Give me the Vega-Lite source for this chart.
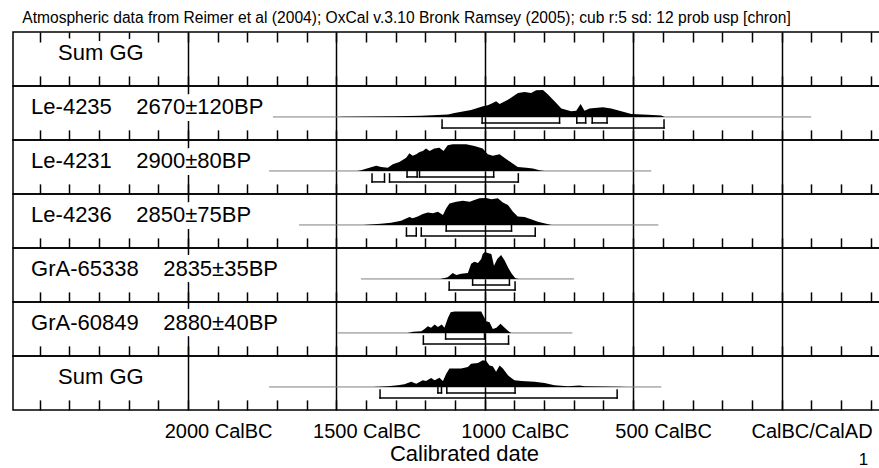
{
"$schema": "https://vega.github.io/schema/vega-lite/v6.json",
"padding": {"left": 12, "top": 10, "right": 0, "bottom": 0},
"title": {"text": "Atmospheric data from Reimer et al (2004); OxCal v.3.10 Bronk Ramsey (2005); cub r:5 sd: 12 prob usp [chron]", "anchor": "start", "fontSize": 15.6, "fontWeight": "normal", "color": "black", "dx": 10, "offset": 4},
"config": {"font": "Liberation Sans", "view": {"stroke": "black", "strokeWidth": 1.5}},
"datasets": {
"dist": [
{"row":2,"year":-1500,"p":0},{"row":2,"year":-1480,"p":0.01},{"row":2,"year":-1300,"p":0.03},{"row":2,"year":-1214,"p":0.04},{"row":2,"year":-1124,"p":0.09},{"row":2,"year":-1102,"p":0.15},{"row":2,"year":-1046,"p":0.26},{"row":2,"year":-1006,"p":0.40},{"row":2,"year":-990,"p":0.43},{"row":2,"year":-973,"p":0.52},{"row":2,"year":-962,"p":0.58},{"row":2,"year":-950,"p":0.48},{"row":2,"year":-922,"p":0.64},{"row":2,"year":-888,"p":0.89},{"row":2,"year":-866,"p":0.93},{"row":2,"year":-844,"p":0.89},{"row":2,"year":-827,"p":0.99},{"row":2,"year":-804,"p":1.0},{"row":2,"year":-787,"p":0.83},{"row":2,"year":-765,"p":0.58},{"row":2,"year":-742,"p":0.31},{"row":2,"year":-709,"p":0.21},{"row":2,"year":-692,"p":0.23},{"row":2,"year":-677,"p":0.48},{"row":2,"year":-664,"p":0.23},{"row":2,"year":-647,"p":0.31},{"row":2,"year":-630,"p":0.33},{"row":2,"year":-602,"p":0.36},{"row":2,"year":-574,"p":0.31},{"row":2,"year":-540,"p":0.21},{"row":2,"year":-506,"p":0.11},{"row":2,"year":-450,"p":0.085},{"row":2,"year":-405,"p":0.05},{"row":2,"year":-394,"p":0},
{"row":3,"year":-1430,"p":0},{"row":3,"year":-1417,"p":0.03},{"row":3,"year":-1389,"p":0.12},{"row":3,"year":-1366,"p":0.19},{"row":3,"year":-1349,"p":0.15},{"row":3,"year":-1327,"p":0.12},{"row":3,"year":-1310,"p":0.25},{"row":3,"year":-1288,"p":0.33},{"row":3,"year":-1265,"p":0.49},{"row":3,"year":-1254,"p":0.66},{"row":3,"year":-1243,"p":0.56},{"row":3,"year":-1231,"p":0.62},{"row":3,"year":-1220,"p":0.70},{"row":3,"year":-1209,"p":0.74},{"row":3,"year":-1198,"p":0.83},{"row":3,"year":-1186,"p":0.74},{"row":3,"year":-1170,"p":0.83},{"row":3,"year":-1153,"p":0.86},{"row":3,"year":-1139,"p":0.74},{"row":3,"year":-1125,"p":0.95},{"row":3,"year":-1108,"p":0.99},{"row":3,"year":-1063,"p":0.99},{"row":3,"year":-1035,"p":0.93},{"row":3,"year":-1007,"p":0.83},{"row":3,"year":-990,"p":0.62},{"row":3,"year":-973,"p":0.56},{"row":3,"year":-950,"p":0.62},{"row":3,"year":-934,"p":0.49},{"row":3,"year":-911,"p":0.31},{"row":3,"year":-889,"p":0.15},{"row":3,"year":-860,"p":0.12},{"row":3,"year":-838,"p":0.09},{"row":3,"year":-816,"p":0.03},{"row":3,"year":-800,"p":0},
{"row":4,"year":-1410,"p":0},{"row":4,"year":-1350,"p":0.04},{"row":4,"year":-1316,"p":0.085},{"row":4,"year":-1282,"p":0.16},{"row":4,"year":-1254,"p":0.29},{"row":4,"year":-1243,"p":0.25},{"row":4,"year":-1226,"p":0.31},{"row":4,"year":-1209,"p":0.41},{"row":4,"year":-1192,"p":0.46},{"row":4,"year":-1175,"p":0.43},{"row":4,"year":-1158,"p":0.49},{"row":4,"year":-1141,"p":0.37},{"row":4,"year":-1130,"p":0.62},{"row":4,"year":-1119,"p":0.80},{"row":4,"year":-1096,"p":0.86},{"row":4,"year":-1074,"p":0.90},{"row":4,"year":-1051,"p":0.86},{"row":4,"year":-1035,"p":0.93},{"row":4,"year":-1018,"p":0.99},{"row":4,"year":-995,"p":1.0},{"row":4,"year":-978,"p":0.95},{"row":4,"year":-956,"p":0.99},{"row":4,"year":-939,"p":0.83},{"row":4,"year":-922,"p":0.74},{"row":4,"year":-905,"p":0.49},{"row":4,"year":-889,"p":0.31},{"row":4,"year":-866,"p":0.29},{"row":4,"year":-844,"p":0.21},{"row":4,"year":-821,"p":0.12},{"row":4,"year":-793,"p":0.04},{"row":4,"year":-775,"p":0},
{"row":5,"year":-1150,"p":0},{"row":5,"year":-1125,"p":0.06},{"row":5,"year":-1108,"p":0.22},{"row":5,"year":-1096,"p":0.15},{"row":5,"year":-1080,"p":0.19},{"row":5,"year":-1057,"p":0.22},{"row":5,"year":-1046,"p":0.56},{"row":5,"year":-1035,"p":0.64},{"row":5,"year":-1023,"p":0.59},{"row":5,"year":-1012,"p":0.74},{"row":5,"year":-1007,"p":0.93},{"row":5,"year":-1000,"p":1.0},{"row":5,"year":-990,"p":0.96},{"row":5,"year":-978,"p":0.93},{"row":5,"year":-969,"p":0.49},{"row":5,"year":-958,"p":0.74},{"row":5,"year":-945,"p":0.89},{"row":5,"year":-933,"p":0.68},{"row":5,"year":-922,"p":0.43},{"row":5,"year":-909,"p":0.19},{"row":5,"year":-897,"p":0.03},{"row":5,"year":-885,"p":0},
{"row":6,"year":-1260,"p":0},{"row":6,"year":-1241,"p":0.04},{"row":6,"year":-1214,"p":0.06},{"row":6,"year":-1203,"p":0.15},{"row":6,"year":-1192,"p":0.25},{"row":6,"year":-1181,"p":0.19},{"row":6,"year":-1169,"p":0.31},{"row":6,"year":-1158,"p":0.22},{"row":6,"year":-1145,"p":0.31},{"row":6,"year":-1136,"p":0.19},{"row":6,"year":-1124,"p":0.56},{"row":6,"year":-1115,"p":0.77},{"row":6,"year":-1102,"p":0.80},{"row":6,"year":-1012,"p":0.80},{"row":6,"year":-1004,"p":0.62},{"row":6,"year":-995,"p":0.43},{"row":6,"year":-984,"p":0.40},{"row":6,"year":-973,"p":0.15},{"row":6,"year":-961,"p":0.19},{"row":6,"year":-947,"p":0.34},{"row":6,"year":-933,"p":0.19},{"row":6,"year":-920,"p":0.06},{"row":6,"year":-911,"p":0},
{"row":7,"year":-1376,"p":0},{"row":7,"year":-1327,"p":0.03},{"row":7,"year":-1293,"p":0.06},{"row":7,"year":-1271,"p":0.10},{"row":7,"year":-1248,"p":0.19},{"row":7,"year":-1231,"p":0.12},{"row":7,"year":-1209,"p":0.25},{"row":7,"year":-1198,"p":0.22},{"row":7,"year":-1181,"p":0.33},{"row":7,"year":-1169,"p":0.25},{"row":7,"year":-1153,"p":0.34},{"row":7,"year":-1141,"p":0.22},{"row":7,"year":-1130,"p":0.49},{"row":7,"year":-1119,"p":0.68},{"row":7,"year":-1102,"p":0.68},{"row":7,"year":-1080,"p":0.68},{"row":7,"year":-1057,"p":0.74},{"row":7,"year":-1046,"p":0.86},{"row":7,"year":-1023,"p":0.89},{"row":7,"year":-1007,"p":0.99},{"row":7,"year":-995,"p":0.96},{"row":7,"year":-984,"p":0.80},{"row":7,"year":-973,"p":0.77},{"row":7,"year":-962,"p":0.56},{"row":7,"year":-950,"p":0.80},{"row":7,"year":-939,"p":0.68},{"row":7,"year":-922,"p":0.43},{"row":7,"year":-900,"p":0.25},{"row":7,"year":-877,"p":0.22},{"row":7,"year":-832,"p":0.19},{"row":7,"year":-799,"p":0.15},{"row":7,"year":-765,"p":0.06},{"row":7,"year":-720,"p":0.03},{"row":7,"year":-681,"p":0.05},{"row":7,"year":-664,"p":0.03},{"row":7,"year":-551,"p":0.01},{"row":7,"year":-520,"p":0}
],
"spans": [
{"row":2,"start":-1714,"end":100},{"row":3,"start":-1727,"end":-439},{"row":4,"start":-1626,"end":-415},{"row":5,"start":-1417,"end":-699},{"row":6,"start":-1495,"end":-705},{"row":7,"start":-1727,"end":-405}
],
"brackets": [
{"row":2,"lev":1,"start":-1009,"end":-748},{"row":2,"lev":1,"start":-690,"end":-660},{"row":2,"lev":1,"start":-638,"end":-588},{"row":2,"lev":2,"start":-1144,"end":-396},
{"row":3,"lev":1,"start":-1262,"end":-1228},{"row":3,"lev":1,"start":-1220,"end":-970},{"row":3,"lev":2,"start":-1380,"end":-1338},{"row":3,"lev":2,"start":-1321,"end":-887},
{"row":4,"lev":1,"start":-1130,"end":-910},{"row":4,"lev":2,"start":-1264,"end":-1231},{"row":4,"lev":2,"start":-1214,"end":-830},
{"row":5,"lev":1,"start":-1041,"end":-917},{"row":5,"lev":2,"start":-1120,"end":-898},
{"row":6,"lev":1,"start":-1132,"end":-1001},{"row":6,"lev":2,"start":-1207,"end":-920},
{"row":7,"lev":1,"start":-1158,"end":-1146},{"row":7,"lev":1,"start":-1128,"end":-898},{"row":7,"lev":2,"start":-1353,"end":-554}
],
"labels": [
{"row":1,"label":"Sum GG"},
{"row":2,"label":"Le-4235\u00a0\u00a0\u00a0\u00a02670±120BP"},
{"row":3,"label":"Le-4231\u00a0\u00a0\u00a0\u00a02900±80BP"},
{"row":4,"label":"Le-4236\u00a0\u00a0\u00a0\u00a02850±75BP"},
{"row":5,"label":"GrA-65338\u00a0\u00a0\u00a0\u00a02835±35BP"},
{"row":6,"label":"GrA-60849\u00a0\u00a0\u00a0\u00a02880±40BP"},
{"row":7,"label":"Sum GG"}
],
"notes": [{"note":"1"}]
},
"vconcat": [
{"width":870,"height":53.9,"resolve":{"axis":{"x":"independent"}},"layer":[
 {"data":{"name":"labels"},"transform":[{"filter":"datum.row === 1"}],"mark":{"type":"text","align":"left","baseline":"alphabetic","fontSize":22,"stroke":"white","strokeWidth":14,"strokeJoin":"round"},
  "encoding":{"x":{"datum":-2438,"type":"quantitative","scale":{"domain":[-2590,342],"nice":false,"zero":false},"axis":{"orient":"bottom","values":[-2500,-2400,-2300,-2200,-2100,-2000,-1900,-1800,-1700,-1600,-1500,-1400,-1300,-1200,-1100,-1000,-900,-800,-700,-600,-500,-400,-300,-200,-100,0,100,200,300],"tickSize":-10,"tickWidth":1.5,"tickColor":"black","labels":false,"domain":false,"title":null,"grid":true,"gridColor":"black","gridWidth":1.5,"gridOpacity":{"condition":{"test":"datum.value >= -2000 && datum.value <= 0 && datum.value % 500 === 0","value":1},"value":0}}},
  "y":{"datum":0.11,"type":"quantitative","scale":{"domain":[-0.852,1.148],"nice":false,"zero":false},"axis":null},"text":{"field":"label"}}},
 {"data":{"name":"labels"},"transform":[{"filter":"datum.row === 1"}],"mark":{"type":"text","align":"left","baseline":"alphabetic","fontSize":22,"color":"black"},
  "encoding":{"x":{"datum":-2438,"type":"quantitative","scale":{"domain":[-2590,342],"nice":false,"zero":false},"axis":{"orient":"top","values":[-2500,-2400,-2300,-2200,-2100,-2000,-1900,-1800,-1700,-1600,-1500,-1400,-1300,-1200,-1100,-1000,-900,-800,-700,-600,-500,-400,-300,-200,-100,0,100,200,300],"tickSize":-10,"tickWidth":1.5,"tickColor":"black","labels":false,"domain":false,"title":null,"grid":false}},
  "y":{"datum":0.11,"type":"quantitative","scale":{"domain":[-0.852,1.148],"nice":false,"zero":false},"axis":null},"text":{"field":"label"}}}
]},
{"width":870,"height":53.9,"resolve":{"axis":{"x":"independent"}},"layer":[
 {"data":{"name":"spans"},"transform":[{"filter":"datum.row === 2"}],"mark":{"type":"rule","color":"#808080","strokeWidth":1},"encoding":{"x":{"field":"start","type":"quantitative","scale":{"domain":[-2590,342],"nice":false,"zero":false},"axis":null},"x2":{"field":"end"},"y":{"datum":0,"type":"quantitative","scale":{"domain":[-0.852,1.148],"nice":false,"zero":false},"axis":null}}},
 {"data":{"name":"dist"},"transform":[{"filter":"datum.row === 2"}],"mark":{"type":"area","color":"black","orient":"vertical"},"encoding":{"x":{"field":"year","type":"quantitative","scale":{"domain":[-2590,342],"nice":false,"zero":false},"axis":null},"y":{"field":"p","type":"quantitative","scale":{"domain":[-0.852,1.148],"nice":false,"zero":false},"axis":null},"y2":{"datum":0}}},
 {"data":{"name":"brackets"},"transform":[{"filter":"datum.row === 2 && datum.lev === 1"}],"mark":{"type":"rule","color":"black","strokeWidth":1.5,"strokeCap":"square"},"encoding":{"x":{"field":"start","type":"quantitative","scale":{"domain":[-2590,342],"nice":false,"zero":false},"axis":null},"x2":{"field":"end"},"y":{"datum":-0.222,"type":"quantitative","scale":{"domain":[-0.852,1.148],"nice":false,"zero":false},"axis":null}}},
 {"data":{"name":"brackets"},"transform":[{"filter":"datum.row === 2 && datum.lev === 1"},{"fold":["start","end"],"as":["side","pos"]}],"mark":{"type":"rule","color":"black","strokeWidth":1.5,"strokeCap":"square"},"encoding":{"x":{"field":"pos","type":"quantitative","scale":{"domain":[-2590,342],"nice":false,"zero":false},"axis":null},"y":{"datum":-0.222,"type":"quantitative","scale":{"domain":[-0.852,1.148],"nice":false,"zero":false},"axis":null},"y2":{"datum":0}}},
 {"data":{"name":"brackets"},"transform":[{"filter":"datum.row === 2 && datum.lev === 2"}],"mark":{"type":"rule","color":"black","strokeWidth":1.5,"strokeCap":"square"},"encoding":{"x":{"field":"start","type":"quantitative","scale":{"domain":[-2590,342],"nice":false,"zero":false},"axis":null},"x2":{"field":"end"},"y":{"datum":-0.407,"type":"quantitative","scale":{"domain":[-0.852,1.148],"nice":false,"zero":false},"axis":null}}},
 {"data":{"name":"brackets"},"transform":[{"filter":"datum.row === 2 && datum.lev === 2"},{"fold":["start","end"],"as":["side","pos"]}],"mark":{"type":"rule","color":"black","strokeWidth":1.5,"strokeCap":"square"},"encoding":{"x":{"field":"pos","type":"quantitative","scale":{"domain":[-2590,342],"nice":false,"zero":false},"axis":null},"y":{"datum":-0.407,"type":"quantitative","scale":{"domain":[-0.852,1.148],"nice":false,"zero":false},"axis":null},"y2":{"datum":-0.111}}},
 {"data":{"name":"labels"},"transform":[{"filter":"datum.row === 2"}],"mark":{"type":"text","align":"left","baseline":"alphabetic","fontSize":22,"stroke":"white","strokeWidth":14,"strokeJoin":"round"},"encoding":{"x":{"datum":-2529,"type":"quantitative","scale":{"domain":[-2590,342],"nice":false,"zero":false},"axis":{"orient":"bottom","values":[-2500,-2400,-2300,-2200,-2100,-2000,-1900,-1800,-1700,-1600,-1500,-1400,-1300,-1200,-1100,-1000,-900,-800,-700,-600,-500,-400,-300,-200,-100,0,100,200,300],"tickSize":-10,"tickWidth":1.5,"tickColor":"black","labels":false,"domain":false,"title":null,"grid":true,"gridColor":"black","gridWidth":1.5,"gridOpacity":{"condition":{"test":"datum.value >= -2000 && datum.value <= 0 && datum.value % 500 === 0","value":1},"value":0}}},"y":{"datum":0.11,"type":"quantitative","scale":{"domain":[-0.852,1.148],"nice":false,"zero":false},"axis":null},"text":{"field":"label"}}},
 {"data":{"name":"labels"},"transform":[{"filter":"datum.row === 2"}],"mark":{"type":"text","align":"left","baseline":"alphabetic","fontSize":22,"color":"black"},"encoding":{"x":{"datum":-2529,"type":"quantitative","scale":{"domain":[-2590,342],"nice":false,"zero":false},"axis":null},"y":{"datum":0.11,"type":"quantitative","scale":{"domain":[-0.852,1.148],"nice":false,"zero":false},"axis":null},"text":{"field":"label"}}}
]},
{"width":870,"height":53.9,"resolve":{"axis":{"x":"independent"}},"layer":[
 {"data":{"name":"spans"},"transform":[{"filter":"datum.row === 3"}],"mark":{"type":"rule","color":"#808080","strokeWidth":1},"encoding":{"x":{"field":"start","type":"quantitative","scale":{"domain":[-2590,342],"nice":false,"zero":false},"axis":null},"x2":{"field":"end"},"y":{"datum":0,"type":"quantitative","scale":{"domain":[-0.852,1.148],"nice":false,"zero":false},"axis":null}}},
 {"data":{"name":"dist"},"transform":[{"filter":"datum.row === 3"}],"mark":{"type":"area","color":"black","orient":"vertical"},"encoding":{"x":{"field":"year","type":"quantitative","scale":{"domain":[-2590,342],"nice":false,"zero":false},"axis":null},"y":{"field":"p","type":"quantitative","scale":{"domain":[-0.852,1.148],"nice":false,"zero":false},"axis":null},"y2":{"datum":0}}},
 {"data":{"name":"brackets"},"transform":[{"filter":"datum.row === 3 && datum.lev === 1"}],"mark":{"type":"rule","color":"black","strokeWidth":1.5,"strokeCap":"square"},"encoding":{"x":{"field":"start","type":"quantitative","scale":{"domain":[-2590,342],"nice":false,"zero":false},"axis":null},"x2":{"field":"end"},"y":{"datum":-0.222,"type":"quantitative","scale":{"domain":[-0.852,1.148],"nice":false,"zero":false},"axis":null}}},
 {"data":{"name":"brackets"},"transform":[{"filter":"datum.row === 3 && datum.lev === 1"},{"fold":["start","end"],"as":["side","pos"]}],"mark":{"type":"rule","color":"black","strokeWidth":1.5,"strokeCap":"square"},"encoding":{"x":{"field":"pos","type":"quantitative","scale":{"domain":[-2590,342],"nice":false,"zero":false},"axis":null},"y":{"datum":-0.222,"type":"quantitative","scale":{"domain":[-0.852,1.148],"nice":false,"zero":false},"axis":null},"y2":{"datum":0}}},
 {"data":{"name":"brackets"},"transform":[{"filter":"datum.row === 3 && datum.lev === 2"}],"mark":{"type":"rule","color":"black","strokeWidth":1.5,"strokeCap":"square"},"encoding":{"x":{"field":"start","type":"quantitative","scale":{"domain":[-2590,342],"nice":false,"zero":false},"axis":null},"x2":{"field":"end"},"y":{"datum":-0.407,"type":"quantitative","scale":{"domain":[-0.852,1.148],"nice":false,"zero":false},"axis":null}}},
 {"data":{"name":"brackets"},"transform":[{"filter":"datum.row === 3 && datum.lev === 2"},{"fold":["start","end"],"as":["side","pos"]}],"mark":{"type":"rule","color":"black","strokeWidth":1.5,"strokeCap":"square"},"encoding":{"x":{"field":"pos","type":"quantitative","scale":{"domain":[-2590,342],"nice":false,"zero":false},"axis":null},"y":{"datum":-0.407,"type":"quantitative","scale":{"domain":[-0.852,1.148],"nice":false,"zero":false},"axis":null},"y2":{"datum":-0.111}}},
 {"data":{"name":"labels"},"transform":[{"filter":"datum.row === 3"}],"mark":{"type":"text","align":"left","baseline":"alphabetic","fontSize":22,"stroke":"white","strokeWidth":14,"strokeJoin":"round"},"encoding":{"x":{"datum":-2529,"type":"quantitative","scale":{"domain":[-2590,342],"nice":false,"zero":false},"axis":{"orient":"bottom","values":[-2500,-2400,-2300,-2200,-2100,-2000,-1900,-1800,-1700,-1600,-1500,-1400,-1300,-1200,-1100,-1000,-900,-800,-700,-600,-500,-400,-300,-200,-100,0,100,200,300],"tickSize":-10,"tickWidth":1.5,"tickColor":"black","labels":false,"domain":false,"title":null,"grid":true,"gridColor":"black","gridWidth":1.5,"gridOpacity":{"condition":{"test":"datum.value >= -2000 && datum.value <= 0 && datum.value % 500 === 0","value":1},"value":0}}},"y":{"datum":0.11,"type":"quantitative","scale":{"domain":[-0.852,1.148],"nice":false,"zero":false},"axis":null},"text":{"field":"label"}}},
 {"data":{"name":"labels"},"transform":[{"filter":"datum.row === 3"}],"mark":{"type":"text","align":"left","baseline":"alphabetic","fontSize":22,"color":"black"},"encoding":{"x":{"datum":-2529,"type":"quantitative","scale":{"domain":[-2590,342],"nice":false,"zero":false},"axis":null},"y":{"datum":0.11,"type":"quantitative","scale":{"domain":[-0.852,1.148],"nice":false,"zero":false},"axis":null},"text":{"field":"label"}}}
]},
{"width":870,"height":53.9,"resolve":{"axis":{"x":"independent"}},"layer":[
 {"data":{"name":"spans"},"transform":[{"filter":"datum.row === 4"}],"mark":{"type":"rule","color":"#808080","strokeWidth":1},"encoding":{"x":{"field":"start","type":"quantitative","scale":{"domain":[-2590,342],"nice":false,"zero":false},"axis":null},"x2":{"field":"end"},"y":{"datum":0,"type":"quantitative","scale":{"domain":[-0.852,1.148],"nice":false,"zero":false},"axis":null}}},
 {"data":{"name":"dist"},"transform":[{"filter":"datum.row === 4"}],"mark":{"type":"area","color":"black","orient":"vertical"},"encoding":{"x":{"field":"year","type":"quantitative","scale":{"domain":[-2590,342],"nice":false,"zero":false},"axis":null},"y":{"field":"p","type":"quantitative","scale":{"domain":[-0.852,1.148],"nice":false,"zero":false},"axis":null},"y2":{"datum":0}}},
 {"data":{"name":"brackets"},"transform":[{"filter":"datum.row === 4 && datum.lev === 1"}],"mark":{"type":"rule","color":"black","strokeWidth":1.5,"strokeCap":"square"},"encoding":{"x":{"field":"start","type":"quantitative","scale":{"domain":[-2590,342],"nice":false,"zero":false},"axis":null},"x2":{"field":"end"},"y":{"datum":-0.222,"type":"quantitative","scale":{"domain":[-0.852,1.148],"nice":false,"zero":false},"axis":null}}},
 {"data":{"name":"brackets"},"transform":[{"filter":"datum.row === 4 && datum.lev === 1"},{"fold":["start","end"],"as":["side","pos"]}],"mark":{"type":"rule","color":"black","strokeWidth":1.5,"strokeCap":"square"},"encoding":{"x":{"field":"pos","type":"quantitative","scale":{"domain":[-2590,342],"nice":false,"zero":false},"axis":null},"y":{"datum":-0.222,"type":"quantitative","scale":{"domain":[-0.852,1.148],"nice":false,"zero":false},"axis":null},"y2":{"datum":0}}},
 {"data":{"name":"brackets"},"transform":[{"filter":"datum.row === 4 && datum.lev === 2"}],"mark":{"type":"rule","color":"black","strokeWidth":1.5,"strokeCap":"square"},"encoding":{"x":{"field":"start","type":"quantitative","scale":{"domain":[-2590,342],"nice":false,"zero":false},"axis":null},"x2":{"field":"end"},"y":{"datum":-0.407,"type":"quantitative","scale":{"domain":[-0.852,1.148],"nice":false,"zero":false},"axis":null}}},
 {"data":{"name":"brackets"},"transform":[{"filter":"datum.row === 4 && datum.lev === 2"},{"fold":["start","end"],"as":["side","pos"]}],"mark":{"type":"rule","color":"black","strokeWidth":1.5,"strokeCap":"square"},"encoding":{"x":{"field":"pos","type":"quantitative","scale":{"domain":[-2590,342],"nice":false,"zero":false},"axis":null},"y":{"datum":-0.407,"type":"quantitative","scale":{"domain":[-0.852,1.148],"nice":false,"zero":false},"axis":null},"y2":{"datum":-0.111}}},
 {"data":{"name":"labels"},"transform":[{"filter":"datum.row === 4"}],"mark":{"type":"text","align":"left","baseline":"alphabetic","fontSize":22,"stroke":"white","strokeWidth":14,"strokeJoin":"round"},"encoding":{"x":{"datum":-2529,"type":"quantitative","scale":{"domain":[-2590,342],"nice":false,"zero":false},"axis":{"orient":"bottom","values":[-2500,-2400,-2300,-2200,-2100,-2000,-1900,-1800,-1700,-1600,-1500,-1400,-1300,-1200,-1100,-1000,-900,-800,-700,-600,-500,-400,-300,-200,-100,0,100,200,300],"tickSize":-10,"tickWidth":1.5,"tickColor":"black","labels":false,"domain":false,"title":null,"grid":true,"gridColor":"black","gridWidth":1.5,"gridOpacity":{"condition":{"test":"datum.value >= -2000 && datum.value <= 0 && datum.value % 500 === 0","value":1},"value":0}}},"y":{"datum":0.11,"type":"quantitative","scale":{"domain":[-0.852,1.148],"nice":false,"zero":false},"axis":null},"text":{"field":"label"}}},
 {"data":{"name":"labels"},"transform":[{"filter":"datum.row === 4"}],"mark":{"type":"text","align":"left","baseline":"alphabetic","fontSize":22,"color":"black"},"encoding":{"x":{"datum":-2529,"type":"quantitative","scale":{"domain":[-2590,342],"nice":false,"zero":false},"axis":null},"y":{"datum":0.11,"type":"quantitative","scale":{"domain":[-0.852,1.148],"nice":false,"zero":false},"axis":null},"text":{"field":"label"}}}
]},
{"width":870,"height":53.9,"resolve":{"axis":{"x":"independent"}},"layer":[
 {"data":{"name":"spans"},"transform":[{"filter":"datum.row === 5"}],"mark":{"type":"rule","color":"#808080","strokeWidth":1},"encoding":{"x":{"field":"start","type":"quantitative","scale":{"domain":[-2590,342],"nice":false,"zero":false},"axis":null},"x2":{"field":"end"},"y":{"datum":0,"type":"quantitative","scale":{"domain":[-0.852,1.148],"nice":false,"zero":false},"axis":null}}},
 {"data":{"name":"dist"},"transform":[{"filter":"datum.row === 5"}],"mark":{"type":"area","color":"black","orient":"vertical"},"encoding":{"x":{"field":"year","type":"quantitative","scale":{"domain":[-2590,342],"nice":false,"zero":false},"axis":null},"y":{"field":"p","type":"quantitative","scale":{"domain":[-0.852,1.148],"nice":false,"zero":false},"axis":null},"y2":{"datum":0}}},
 {"data":{"name":"brackets"},"transform":[{"filter":"datum.row === 5 && datum.lev === 1"}],"mark":{"type":"rule","color":"black","strokeWidth":1.5,"strokeCap":"square"},"encoding":{"x":{"field":"start","type":"quantitative","scale":{"domain":[-2590,342],"nice":false,"zero":false},"axis":null},"x2":{"field":"end"},"y":{"datum":-0.222,"type":"quantitative","scale":{"domain":[-0.852,1.148],"nice":false,"zero":false},"axis":null}}},
 {"data":{"name":"brackets"},"transform":[{"filter":"datum.row === 5 && datum.lev === 1"},{"fold":["start","end"],"as":["side","pos"]}],"mark":{"type":"rule","color":"black","strokeWidth":1.5,"strokeCap":"square"},"encoding":{"x":{"field":"pos","type":"quantitative","scale":{"domain":[-2590,342],"nice":false,"zero":false},"axis":null},"y":{"datum":-0.222,"type":"quantitative","scale":{"domain":[-0.852,1.148],"nice":false,"zero":false},"axis":null},"y2":{"datum":0}}},
 {"data":{"name":"brackets"},"transform":[{"filter":"datum.row === 5 && datum.lev === 2"}],"mark":{"type":"rule","color":"black","strokeWidth":1.5,"strokeCap":"square"},"encoding":{"x":{"field":"start","type":"quantitative","scale":{"domain":[-2590,342],"nice":false,"zero":false},"axis":null},"x2":{"field":"end"},"y":{"datum":-0.407,"type":"quantitative","scale":{"domain":[-0.852,1.148],"nice":false,"zero":false},"axis":null}}},
 {"data":{"name":"brackets"},"transform":[{"filter":"datum.row === 5 && datum.lev === 2"},{"fold":["start","end"],"as":["side","pos"]}],"mark":{"type":"rule","color":"black","strokeWidth":1.5,"strokeCap":"square"},"encoding":{"x":{"field":"pos","type":"quantitative","scale":{"domain":[-2590,342],"nice":false,"zero":false},"axis":null},"y":{"datum":-0.407,"type":"quantitative","scale":{"domain":[-0.852,1.148],"nice":false,"zero":false},"axis":null},"y2":{"datum":-0.111}}},
 {"data":{"name":"labels"},"transform":[{"filter":"datum.row === 5"}],"mark":{"type":"text","align":"left","baseline":"alphabetic","fontSize":22,"stroke":"white","strokeWidth":14,"strokeJoin":"round"},"encoding":{"x":{"datum":-2529,"type":"quantitative","scale":{"domain":[-2590,342],"nice":false,"zero":false},"axis":{"orient":"bottom","values":[-2500,-2400,-2300,-2200,-2100,-2000,-1900,-1800,-1700,-1600,-1500,-1400,-1300,-1200,-1100,-1000,-900,-800,-700,-600,-500,-400,-300,-200,-100,0,100,200,300],"tickSize":-10,"tickWidth":1.5,"tickColor":"black","labels":false,"domain":false,"title":null,"grid":true,"gridColor":"black","gridWidth":1.5,"gridOpacity":{"condition":{"test":"datum.value >= -2000 && datum.value <= 0 && datum.value % 500 === 0","value":1},"value":0}}},"y":{"datum":0.11,"type":"quantitative","scale":{"domain":[-0.852,1.148],"nice":false,"zero":false},"axis":null},"text":{"field":"label"}}},
 {"data":{"name":"labels"},"transform":[{"filter":"datum.row === 5"}],"mark":{"type":"text","align":"left","baseline":"alphabetic","fontSize":22,"color":"black"},"encoding":{"x":{"datum":-2529,"type":"quantitative","scale":{"domain":[-2590,342],"nice":false,"zero":false},"axis":null},"y":{"datum":0.11,"type":"quantitative","scale":{"domain":[-0.852,1.148],"nice":false,"zero":false},"axis":null},"text":{"field":"label"}}}
]},
{"width":870,"height":53.9,"resolve":{"axis":{"x":"independent"}},"layer":[
 {"data":{"name":"spans"},"transform":[{"filter":"datum.row === 6"}],"mark":{"type":"rule","color":"#808080","strokeWidth":1},"encoding":{"x":{"field":"start","type":"quantitative","scale":{"domain":[-2590,342],"nice":false,"zero":false},"axis":null},"x2":{"field":"end"},"y":{"datum":0,"type":"quantitative","scale":{"domain":[-0.852,1.148],"nice":false,"zero":false},"axis":null}}},
 {"data":{"name":"dist"},"transform":[{"filter":"datum.row === 6"}],"mark":{"type":"area","color":"black","orient":"vertical"},"encoding":{"x":{"field":"year","type":"quantitative","scale":{"domain":[-2590,342],"nice":false,"zero":false},"axis":null},"y":{"field":"p","type":"quantitative","scale":{"domain":[-0.852,1.148],"nice":false,"zero":false},"axis":null},"y2":{"datum":0}}},
 {"data":{"name":"brackets"},"transform":[{"filter":"datum.row === 6 && datum.lev === 1"}],"mark":{"type":"rule","color":"black","strokeWidth":1.5,"strokeCap":"square"},"encoding":{"x":{"field":"start","type":"quantitative","scale":{"domain":[-2590,342],"nice":false,"zero":false},"axis":null},"x2":{"field":"end"},"y":{"datum":-0.222,"type":"quantitative","scale":{"domain":[-0.852,1.148],"nice":false,"zero":false},"axis":null}}},
 {"data":{"name":"brackets"},"transform":[{"filter":"datum.row === 6 && datum.lev === 1"},{"fold":["start","end"],"as":["side","pos"]}],"mark":{"type":"rule","color":"black","strokeWidth":1.5,"strokeCap":"square"},"encoding":{"x":{"field":"pos","type":"quantitative","scale":{"domain":[-2590,342],"nice":false,"zero":false},"axis":null},"y":{"datum":-0.222,"type":"quantitative","scale":{"domain":[-0.852,1.148],"nice":false,"zero":false},"axis":null},"y2":{"datum":0}}},
 {"data":{"name":"brackets"},"transform":[{"filter":"datum.row === 6 && datum.lev === 2"}],"mark":{"type":"rule","color":"black","strokeWidth":1.5,"strokeCap":"square"},"encoding":{"x":{"field":"start","type":"quantitative","scale":{"domain":[-2590,342],"nice":false,"zero":false},"axis":null},"x2":{"field":"end"},"y":{"datum":-0.407,"type":"quantitative","scale":{"domain":[-0.852,1.148],"nice":false,"zero":false},"axis":null}}},
 {"data":{"name":"brackets"},"transform":[{"filter":"datum.row === 6 && datum.lev === 2"},{"fold":["start","end"],"as":["side","pos"]}],"mark":{"type":"rule","color":"black","strokeWidth":1.5,"strokeCap":"square"},"encoding":{"x":{"field":"pos","type":"quantitative","scale":{"domain":[-2590,342],"nice":false,"zero":false},"axis":null},"y":{"datum":-0.407,"type":"quantitative","scale":{"domain":[-0.852,1.148],"nice":false,"zero":false},"axis":null},"y2":{"datum":-0.111}}},
 {"data":{"name":"labels"},"transform":[{"filter":"datum.row === 6"}],"mark":{"type":"text","align":"left","baseline":"alphabetic","fontSize":22,"stroke":"white","strokeWidth":14,"strokeJoin":"round"},"encoding":{"x":{"datum":-2529,"type":"quantitative","scale":{"domain":[-2590,342],"nice":false,"zero":false},"axis":{"orient":"bottom","values":[-2500,-2400,-2300,-2200,-2100,-2000,-1900,-1800,-1700,-1600,-1500,-1400,-1300,-1200,-1100,-1000,-900,-800,-700,-600,-500,-400,-300,-200,-100,0,100,200,300],"tickSize":-10,"tickWidth":1.5,"tickColor":"black","labels":false,"domain":false,"title":null,"grid":true,"gridColor":"black","gridWidth":1.5,"gridOpacity":{"condition":{"test":"datum.value >= -2000 && datum.value <= 0 && datum.value % 500 === 0","value":1},"value":0}}},"y":{"datum":0.11,"type":"quantitative","scale":{"domain":[-0.852,1.148],"nice":false,"zero":false},"axis":null},"text":{"field":"label"}}},
 {"data":{"name":"labels"},"transform":[{"filter":"datum.row === 6"}],"mark":{"type":"text","align":"left","baseline":"alphabetic","fontSize":22,"color":"black"},"encoding":{"x":{"datum":-2529,"type":"quantitative","scale":{"domain":[-2590,342],"nice":false,"zero":false},"axis":null},"y":{"datum":0.11,"type":"quantitative","scale":{"domain":[-0.852,1.148],"nice":false,"zero":false},"axis":null},"text":{"field":"label"}}}
]},
{"width":870,"height":53.9,"resolve":{"axis":{"x":"independent"}},"layer":[
 {"data":{"name":"spans"},"transform":[{"filter":"datum.row === 7"}],"mark":{"type":"rule","color":"#808080","strokeWidth":1},"encoding":{"x":{"field":"start","type":"quantitative","scale":{"domain":[-2590,342],"nice":false,"zero":false},"axis":null},"x2":{"field":"end"},"y":{"datum":0,"type":"quantitative","scale":{"domain":[-0.852,1.148],"nice":false,"zero":false},"axis":null}}},
 {"data":{"name":"dist"},"transform":[{"filter":"datum.row === 7"}],"mark":{"type":"area","color":"black","orient":"vertical"},"encoding":{"x":{"field":"year","type":"quantitative","scale":{"domain":[-2590,342],"nice":false,"zero":false},"axis":null},"y":{"field":"p","type":"quantitative","scale":{"domain":[-0.852,1.148],"nice":false,"zero":false},"axis":null},"y2":{"datum":0}}},
 {"data":{"name":"brackets"},"transform":[{"filter":"datum.row === 7 && datum.lev === 1"}],"mark":{"type":"rule","color":"black","strokeWidth":1.5,"strokeCap":"square"},"encoding":{"x":{"field":"start","type":"quantitative","scale":{"domain":[-2590,342],"nice":false,"zero":false},"axis":null},"x2":{"field":"end"},"y":{"datum":-0.222,"type":"quantitative","scale":{"domain":[-0.852,1.148],"nice":false,"zero":false},"axis":null}}},
 {"data":{"name":"brackets"},"transform":[{"filter":"datum.row === 7 && datum.lev === 1"},{"fold":["start","end"],"as":["side","pos"]}],"mark":{"type":"rule","color":"black","strokeWidth":1.5,"strokeCap":"square"},"encoding":{"x":{"field":"pos","type":"quantitative","scale":{"domain":[-2590,342],"nice":false,"zero":false},"axis":null},"y":{"datum":-0.222,"type":"quantitative","scale":{"domain":[-0.852,1.148],"nice":false,"zero":false},"axis":null},"y2":{"datum":0}}},
 {"data":{"name":"brackets"},"transform":[{"filter":"datum.row === 7 && datum.lev === 2"}],"mark":{"type":"rule","color":"black","strokeWidth":1.5,"strokeCap":"square"},"encoding":{"x":{"field":"start","type":"quantitative","scale":{"domain":[-2590,342],"nice":false,"zero":false},"axis":null},"x2":{"field":"end"},"y":{"datum":-0.407,"type":"quantitative","scale":{"domain":[-0.852,1.148],"nice":false,"zero":false},"axis":null}}},
 {"data":{"name":"brackets"},"transform":[{"filter":"datum.row === 7 && datum.lev === 2"},{"fold":["start","end"],"as":["side","pos"]}],"mark":{"type":"rule","color":"black","strokeWidth":1.5,"strokeCap":"square"},"encoding":{"x":{"field":"pos","type":"quantitative","scale":{"domain":[-2590,342],"nice":false,"zero":false},"axis":null},"y":{"datum":-0.407,"type":"quantitative","scale":{"domain":[-0.852,1.148],"nice":false,"zero":false},"axis":null},"y2":{"datum":-0.111}}},
 {"data":{"name":"labels"},"transform":[{"filter":"datum.row === 7"}],"mark":{"type":"text","align":"left","baseline":"alphabetic","fontSize":22,"stroke":"white","strokeWidth":14,"strokeJoin":"round"},"encoding":{"x":{"datum":-2438,"type":"quantitative","scale":{"domain":[-2590,342],"nice":false,"zero":false},"axis":{"orient":"bottom","values":[-2500,-2400,-2300,-2200,-2100,-2000,-1900,-1800,-1700,-1600,-1500,-1400,-1300,-1200,-1100,-1000,-900,-800,-700,-600,-500,-400,-300,-200,-100,0,100,200,300],"tickSize":-10,"tickWidth":1.5,"tickColor":"black","domain":false,"grid":true,"gridColor":"black","gridWidth":1.5,"gridOpacity":{"condition":{"test":"datum.value >= -2000 && datum.value <= 0 && datum.value % 500 === 0","value":1},"value":0},"labels":true,"labelExpr":"datum.value === 0 ? 'CalBC/CalAD' : ((datum.value >= -2000 && datum.value < 0 && datum.value % 500 === 0) ? (-datum.value) + ' CalBC' : '')","labelFontSize":20,"labelColor":"black","labelPadding":22,"labelOffset":30,"labelOverlap":false,"labelFlush":false,"labelAlign":"center","labelBaseline":"top","title":"Calibrated date","titleFontSize":22,"titleFontWeight":"normal","titleColor":"black","titlePadding":2,"titleX":451}},"y":{"datum":0.11,"type":"quantitative","scale":{"domain":[-0.852,1.148],"nice":false,"zero":false},"axis":null},"text":{"field":"label"}}},
 {"data":{"name":"labels"},"transform":[{"filter":"datum.row === 7"}],"mark":{"type":"text","align":"left","baseline":"alphabetic","fontSize":22,"color":"black"},"encoding":{"x":{"datum":-2438,"type":"quantitative","scale":{"domain":[-2590,342],"nice":false,"zero":false},"axis":null},"y":{"datum":0.11,"type":"quantitative","scale":{"domain":[-0.852,1.148],"nice":false,"zero":false},"axis":null},"text":{"field":"label"}}},
 {"data":{"name":"notes"},"mark":{"type":"text","align":"center","baseline":"alphabetic","fontSize":17,"color":"black"},"encoding":{"x":{"datum":276,"type":"quantitative","scale":{"domain":[-2590,342],"nice":false,"zero":false},"axis":null},"y":{"datum":-2.9,"type":"quantitative","scale":{"domain":[-0.852,1.148],"nice":false,"zero":false},"axis":null},"text":{"field":"note"}}}
]}
],
"spacing": 0,
"bounds": "flush"
}
